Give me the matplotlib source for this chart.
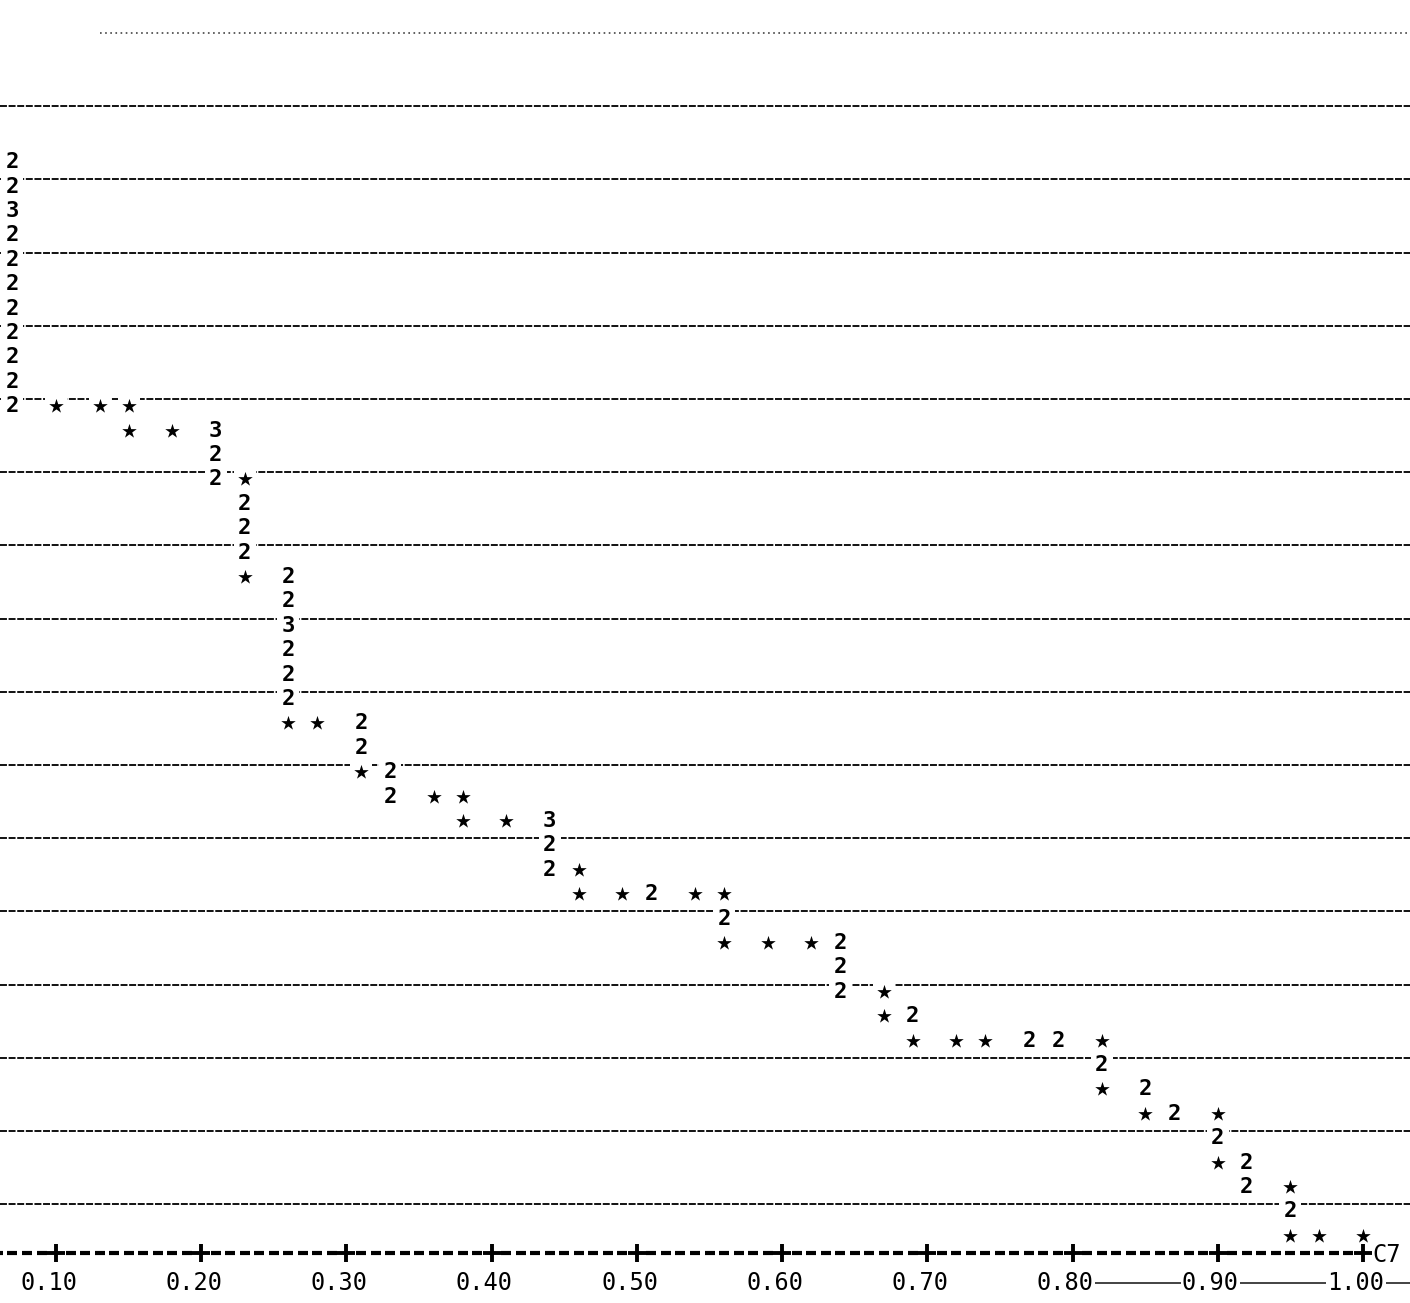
import numpy as np
import matplotlib.pyplot as plt

# printer-plot points: column value, print row, symbol ('*' = one point, digits = count)
x_values = [0.07] * 11 + [
    0.10, 0.13, 0.15,
    0.15, 0.18, 0.21,
    0.21,
    0.21, 0.23,
    0.23, 0.23, 0.23,
    0.23, 0.26,
    0.26, 0.26, 0.26, 0.26, 0.26,
    0.26, 0.28, 0.31,
    0.31,
    0.31, 0.33,
    0.33, 0.36, 0.38,
    0.38, 0.41, 0.44,
    0.44,
    0.44, 0.46,
    0.46, 0.49, 0.51, 0.54, 0.56,
    0.56,
    0.56, 0.59, 0.62, 0.64,
    0.64,
    0.64, 0.67,
    0.67, 0.69,
    0.69, 0.72, 0.74, 0.77, 0.79, 0.82,
    0.82,
    0.82, 0.85,
    0.85, 0.87, 0.90,
    0.90,
    0.90, 0.92,
    0.92, 0.95,
    0.95,
    0.95, 0.97, 1.00,
]
rows = [45, 44, 43, 42, 41, 40, 39, 38, 37, 36, 35] + [
    35, 35, 35,
    34, 34, 34,
    33,
    32, 32,
    31, 30, 29,
    28, 28,
    27, 26, 25, 24, 23,
    22, 22, 22,
    21,
    20, 20,
    19, 19, 19,
    18, 18, 18,
    17,
    16, 16,
    15, 15, 15, 15, 15,
    14,
    13, 13, 13, 13,
    12,
    11, 11,
    10, 10,
    9, 9, 9, 9, 9, 9,
    8,
    7, 7,
    6, 6, 6,
    5,
    4, 4,
    3, 3,
    2,
    1, 1, 1,
]
symbols = ['2', '2', '3', '2', '2', '2', '2', '2', '2', '2', '2'] + [
    '*', '*', '*',
    '*', '*', '3',
    '2',
    '2', '*',
    '2', '2', '2',
    '*', '2',
    '2', '3', '2', '2', '2',
    '*', '*', '2',
    '2',
    '*', '2',
    '2', '*', '*',
    '*', '*', '3',
    '2',
    '2', '*',
    '*', '*', '2', '*', '*',
    '2',
    '*', '*', '*', '2',
    '2',
    '2', '*',
    '*', '2',
    '*', '*', '*', '2', '2', '*',
    '2',
    '*', '2',
    '*', '2', '*',
    '2',
    '*', '2',
    '2', '*',
    '2',
    '*', '*', '*',
]

tick_values = [0.10, 0.20, 0.30, 0.40, 0.50, 0.60, 0.70, 0.80, 0.90, 1.00]
tick_labels = ['0.10', '0.20', '0.30', '0.40', '0.50', '0.60', '0.70', '0.80', '0.90', '1.00']
grid_rows = list(range(2, 51, 3))


def main():
    plt.rcParams['lines.scale_dashes'] = False

    fig = plt.figure(figsize=(14.1, 13.03), dpi=100)
    ax = fig.add_axes([0, 0, 1, 1])
    x0, x1 = 0.0614, 1.0324
    ax.set_xlim(x0, x1)
    ax.set_ylim(-2.05, 51.35)
    ax.axis('off')

    # dashed print rows
    for r in grid_rows:
        if r == 50:
            ax.plot([0.13, x1], [r, r], color='#444444', lw=1.2, dashes=(1.2, 2.5), zorder=1)
        else:
            ax.plot([x0, x1], [r, r], color='#111111', lw=1.4, dashes=(5, 1.2), zorder=1)

    # bottom axis row  ----+---------+ ... +C7  (one '-' per print column)
    columns = np.round(np.arange(0.06, 1.001, 0.01), 2)
    dash_cols = [c for c in columns if c not in tick_values]
    ax.plot(dash_cols, np.zeros(len(dash_cols)), ls='none', marker='_',
            ms=6.8, mew=3.0, color='black', zorder=2)
    ax.plot(tick_values, np.zeros(len(tick_values)), ls='none', marker='+',
            ms=13, mew=2.8, color='black', zorder=4)
    ax.text(1.0062, -0.1, 'C7', fontsize=17, family='DejaVu Sans Mono',
            ha='left', va='center', color='black')

    # tick labels
    ax.plot([0.80, x1], [-1.25, -1.25], color='#222222', lw=1.2, zorder=1)
    for v, lab in zip(tick_values, tick_labels):
        ax.text(v - 0.005, -1.25, lab, fontsize=17, family='DejaVu Sans Mono',
                ha='center', va='center', color='black', zorder=3,
                bbox=dict(facecolor='white', edgecolor='none', pad=1))

    xs = np.array(x_values)
    ys = np.array(rows) - 0.3
    sym = np.array(symbols)

    # blank the dashes under printed characters
    ax.scatter(xs, ys + 0.1, marker='s', s=260, color='white', zorder=2, linewidths=0)

    star = sym == '*'
    ax.scatter(xs[star], ys[star], marker='*', s=120, color='black', zorder=3, linewidths=0)
    for x, y, s in zip(xs[~star], ys[~star], sym[~star]):
        ax.text(x, y, s, fontsize=16, family='DejaVu Sans Mono', fontweight='bold',
                ha='center', va='center', color='black', zorder=3)

    fig.savefig('out.png', dpi=100, facecolor='white')
    plt.close(fig)


if __name__ == '__main__':
    main()
